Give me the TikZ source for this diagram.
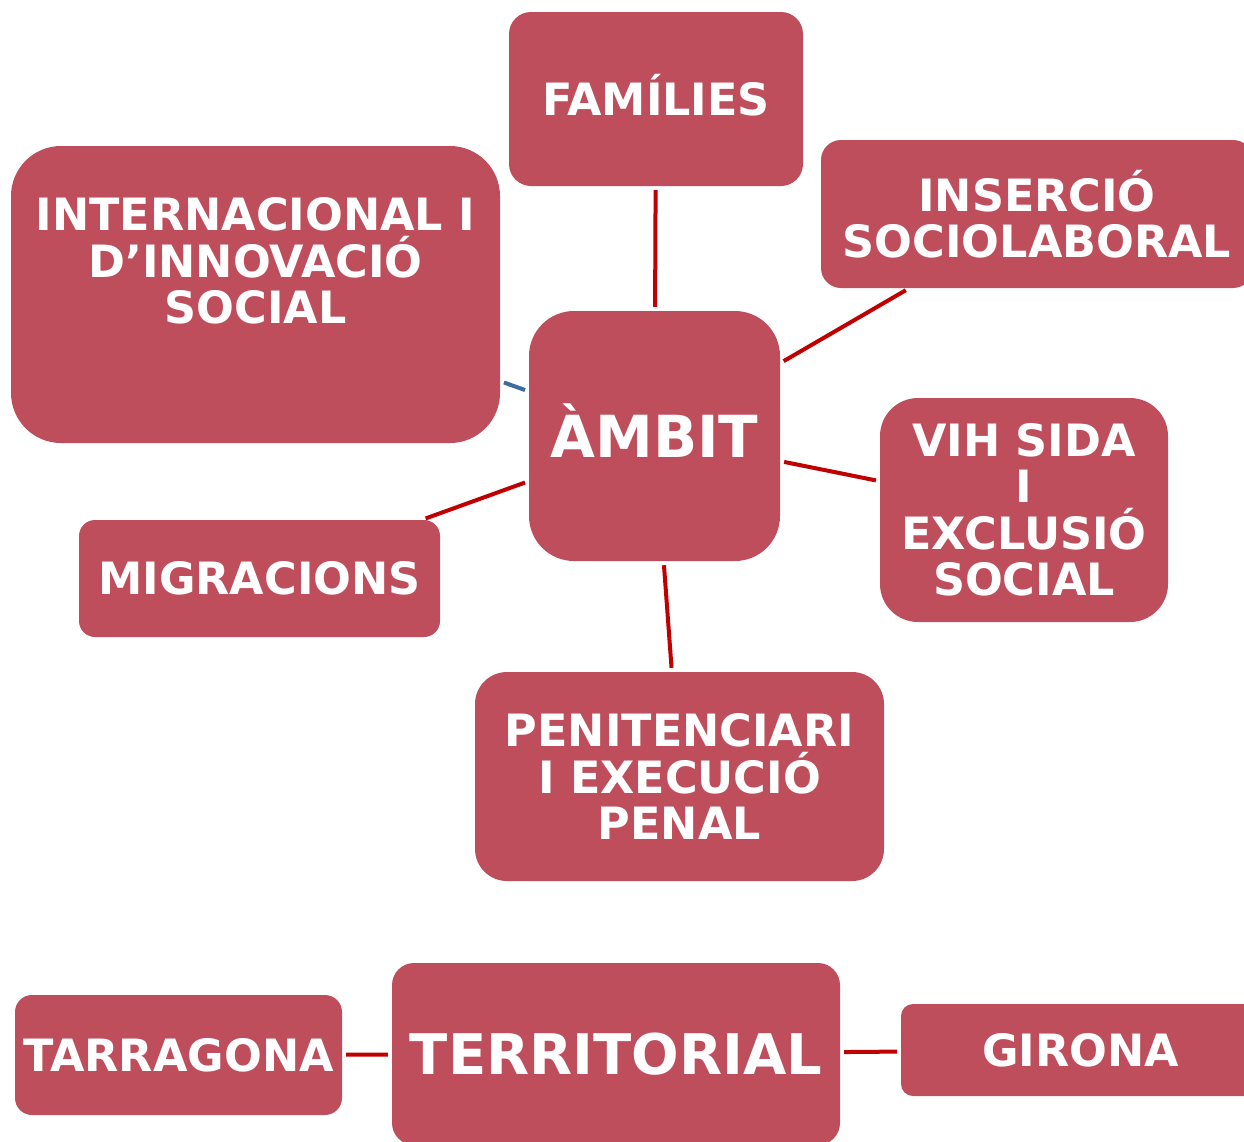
\documentclass[tikz,border=0pt]{standalone}
\usepackage{fontspec}
\setmainfont{DejaVu Sans}
\definecolor{boxred}{RGB}{191,78,92}
\definecolor{linered}{RGB}{192,0,0}
\definecolor{lineblue}{RGB}{62,106,159}
\tikzset{
  box/.style={rectangle, fill=boxred, text=white, inner sep=0pt, align=center,
    font=\fontsize{44.5}{46.5}\selectfont\bfseries},
  txt/.style={text=white, inner sep=0pt, align=center,
    font=\fontsize{44.5}{46.5}\selectfont\bfseries},
  conn/.style={draw=linered, line width=4pt, shorten >=4pt, shorten <=4pt},
  connb/.style={conn, draw=lineblue},
}
\begin{document}
\begin{tikzpicture}[x=1pt,y=-1pt]
\useasboundingbox (0,0) rectangle (1244,1141);
\clip (0,0) rectangle (1244,1141);
% nodes
\node[box, text height=32.4pt, text depth=0pt, minimum width=294pt, minimum height=174pt, rounded corners=22pt] (fam) at (656,99) {FAMÍLIES};
\node[box, minimum width=432pt, minimum height=148pt, rounded corners=20pt] (ins) at (1037,214) {INSERCIÓ\\SOCIOLABORAL};
\node[box, minimum width=489pt, minimum height=297pt, rounded corners=50pt] (intl) at (255.5,294.5) {};
\node[txt] (intltxt) at (255.5,261) {INTERNACIONAL I\\D’INNOVACIÓ\\SOCIAL};
\node[box, text height=42.3pt, text depth=0pt, minimum width=251pt, minimum height=250pt, rounded corners=45pt, font=\fontsize{58}{60}\selectfont\bfseries] (amb) at (654.5,436) {ÀMBIT};
\node[box, minimum width=288pt, minimum height=224pt, rounded corners=38pt] (vih) at (1024,510) {VIH SIDA\\I\\EXCLUSIÓ\\SOCIAL};
\node[box, minimum width=361pt, minimum height=117pt, rounded corners=16pt] (mig) at (259.5,578.5) {MIGRACIONS};
\node[box, minimum width=409pt, minimum height=209pt, rounded corners=32pt] (pen) at (679.5,776.5) {PENITENCIARI\\I EXECUCIÓ\\PENAL};
\node[box, minimum width=327pt, minimum height=120pt, rounded corners=17pt] (tar) at (178.5,1055) {TARRAGONA};
\node[box, minimum width=448pt, minimum height=182pt, rounded corners=22pt, font=\fontsize{56}{60}\selectfont\bfseries] (ter) at (616,1054) {TERRITORIAL};
\node[box, minimum width=359pt, minimum height=92pt, rounded corners=12pt] (gir) at (1080.5,1050) {GIRONA};
% connectors
\draw[conn] (amb) -- (fam);
\draw[conn] (amb) -- (ins);
\draw[connb] (amb) -- (intl);
\draw[conn] (amb) -- (mig);
\draw[conn] (amb) -- (vih);
\draw[conn] (amb) -- (pen);
\draw[conn] (ter) -- (tar);
\draw[conn] (ter) -- (gir);
\end{tikzpicture}
\end{document}
